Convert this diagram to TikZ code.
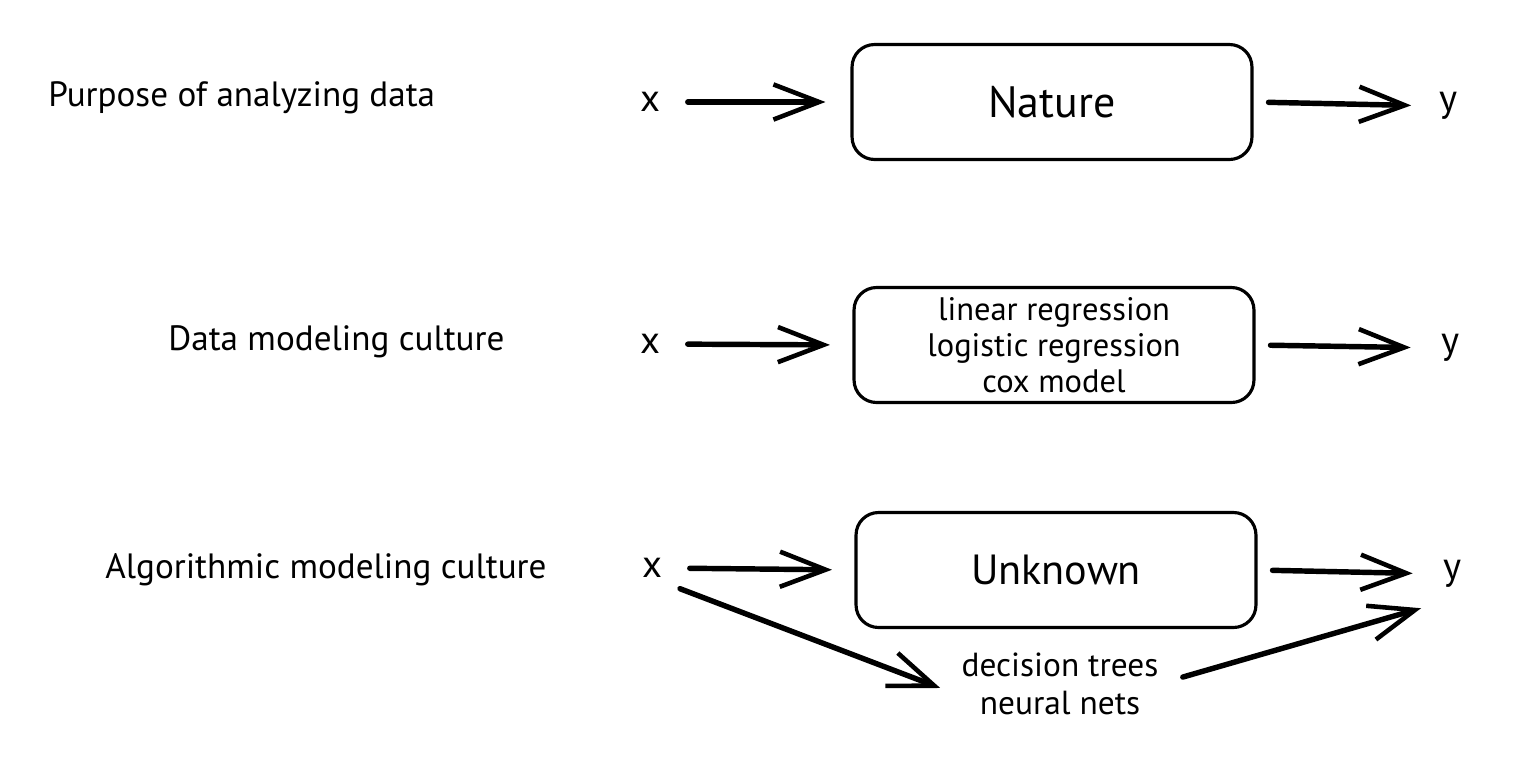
\documentclass[tikz,border=0pt]{standalone}
\usepackage{fontspec}
\setmainfont{PT Sans}
\usetikzlibrary{arrows.meta}

\tikzset{
  box/.style={draw, line width=1.8pt, rounded corners=0.45cm,
    minimum width=8cm, minimum height=2.3cm, align=center, inner sep=0pt},
  io/.style={inner sep=0pt, font=\fontsize{22}{24}\selectfont},
  culture/.style={anchor=west, inner sep=0pt, font=\fontsize{20}{22}\selectfont},
  arr/.style={line width=3.1pt, line cap=round,
    -{Straight Barb[length=26pt,width=20pt,line width=2.6pt]}},
}

\begin{document}
\begin{tikzpicture}[x=0.02cm,y=-0.02cm]
\useasboundingbox (0,0) rectangle (1518,758);

% first row
\node[culture] (purpose) at (48,98) {Purpose of analyzing data};
\node[io] (x1) at (650,102) {x};
\node[box, font=\fontsize{25}{27}\selectfont] (nature) at (1052,102) {Nature};
\node[io] (y1) at (1448,106) {y};

\draw[arr, shorten <=0.55cm, shorten >=0.5cm] (x1.east) -- (nature.west);
\draw[arr, shorten <=0.3cm, shorten >=0.55cm] (nature.east) -- (y1.west);

% second row
\node[culture] (datacult) at (168,342) {Data modeling culture};
\node[io] (x2) at (650,344) {x};
\node[box, font=\fontsize{18.5}{20.5}\selectfont] (datamodel) at (1054,345)
  {linear regression\\logistic regression\\cox model};
\node[io] (y2) at (1450,348) {y};

\draw[arr, shorten <=0.55cm, shorten >=0.45cm] (x2.east) -- (datamodel.west);
\draw[arr, shorten <=0.3cm, shorten >=0.6cm] (datamodel.east) -- (y2.west);

% third row
\node[culture] (algocult) at (105,570) {Algorithmic modeling culture};
\node[io] (x3) at (652,568) {x};
\node[box, font=\fontsize{24}{26}\selectfont] (unknown) at (1056,570) {Unknown};
\node[io] (y3) at (1452,574) {y};
\node[align=center, inner sep=0pt, font=\fontsize{19}{22}\selectfont]
  (algos) at (1060,684) {decision trees\\neural nets};

\draw[arr, shorten <=0.55cm, shorten >=0.45cm] (x3.east) -- (unknown.west);
\draw[arr, shorten <=0.3cm, shorten >=0.6cm] (unknown.east) -- (y3.west);
\draw[arr, shorten <=0.6cm, shorten >=0.45cm] (x3.south) -- ([shift={(0,12)}]algos.west);
\draw[arr, shorten <=0.5cm, shorten >=0.45cm] (algos.east) -- ([shift={(0,14)}]y3.south west);

\end{tikzpicture}
\end{document}
